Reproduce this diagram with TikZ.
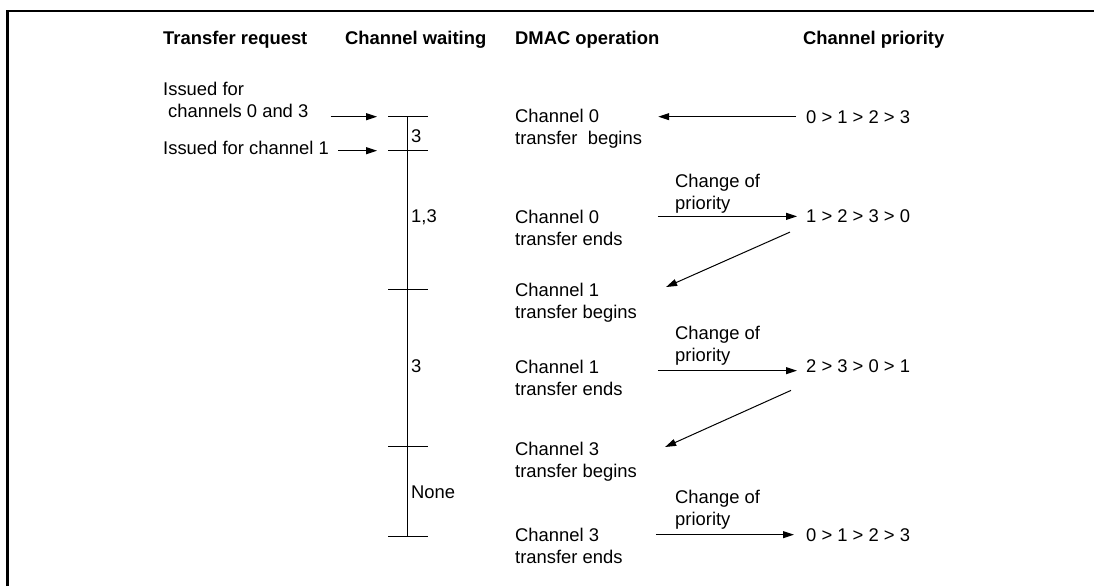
\documentclass[tikz,border=0pt]{standalone}
\usepackage{fontspec}
\setmainfont{Liberation Sans}
\usetikzlibrary{arrows.meta}

\tikzset{
  txt/.style={anchor=base west, inner sep=0pt, align=left},
  head/.style={txt, font=\fontsize{18.4}{22}\selectfont\bfseries},
  arr/.style={line width=1pt, -{Triangle[length=11pt,width=7pt]}},
  tickline/.style={line width=1pt},
}

\begin{document}
\begin{tikzpicture}[x=1pt,y=-1pt,font=\fontsize{18.4}{22}\selectfont]
\useasboundingbox (0,0) rectangle (1094,586);
\draw[line width=2.2pt] (7.5,586) -- (7.5,10.7) -- (1094,10.7);

% column heads
\node[head] (hReq) at (163,45) {Transfer request};
\node[head] (hWait) at (345,45) {Channel waiting};
\node[head] (hDmac) at (515,45) {DMAC operation};
\node[head] (hPrio) at (803,45) {Channel priority};

% transfer requests (multi-line nodes sit on their last line)
\node[txt] (req0) at (163,117) {Issued for\\\hspace{5pt}channels 0 and 3};
\node[txt] (req1) at (163,154) {Issued for channel 1};

% time line of waiting channels
\coordinate (tk0) at (407,116.7);
\coordinate (tk1) at (407,150.7);
\coordinate (tk2) at (407,289.3);
\coordinate (tk3) at (407,446.7);
\coordinate (tk4) at (407,536);
\draw[tickline] (tk0) -- (tk4);
\foreach \i in {0,...,4}
  \draw[tickline] ([xshift=-19pt]tk\i) -- ([xshift=21pt]tk\i);

\node[txt] (w0) at (411,142) {3};
\node[txt] (w1) at (411,222.7) {1,3};
\node[txt] (w2) at (411,372) {3};
\node[txt] (w3) at (411,498) {None};

\draw[arr] ([xshift=22pt]req0.east |- tk0) -- ([xshift=-30pt]tk0);
\draw[arr] ([xshift=9pt]req1.east |- tk1) -- ([xshift=-30pt]tk1);

% DMAC operation
\node[txt] (d0) at (515,144) {Channel 0\\transfer\ \ begins};
\node[txt] (d1) at (515,245) {Channel 0\\transfer ends};
\node[txt] (d2) at (515,318) {Channel 1\\transfer begins};
\node[txt] (d3) at (515,395) {Channel 1\\transfer ends};
\node[txt] (d4) at (515,477) {Channel 3\\transfer begins};
\node[txt] (d5) at (515,563) {Channel 3\\transfer ends};

% channel priority
\node[txt] (p0) at (806,123) {0 > 1 > 2 > 3};
\node[txt] (p1) at (806,222.7) {1 > 2 > 3 > 0};
\node[txt] (p2) at (806,372) {2 > 3 > 0 > 1};
\node[txt] (p3) at (806,541) {0 > 1 > 2 > 3};

\node[txt] (c1) at (675,209.5) {Change of\\priority};
\node[txt] (c2) at (675,361.5) {Change of\\priority};
\node[txt] (c3) at (675,525) {Change of\\priority};

\draw[arr] ([xshift=-10pt]p0.west) -- ([xshift=16pt]p0.west -| d0.east);
\draw[arr] ([xshift=35pt]p1.west -| d1.east) -- ([xshift=-9pt]p1.west);
\draw[arr] ([xshift=-16pt,yshift=-9pt]p1.south west) -- ([xshift=29pt,yshift=31pt]d2.base east);
\draw[arr] ([xshift=35pt,yshift=-5pt]p2.west -| d3.east) -- ([xshift=-9pt,yshift=-5pt]p2.west);
\draw[arr] ([xshift=-15pt,yshift=-18pt]p2.south west) -- ([xshift=28pt,yshift=30pt]d4.base east);
\draw[arr] ([xshift=33pt]p3.west -| d5.east) -- ([xshift=-12pt]p3.west);
\end{tikzpicture}
\end{document}
